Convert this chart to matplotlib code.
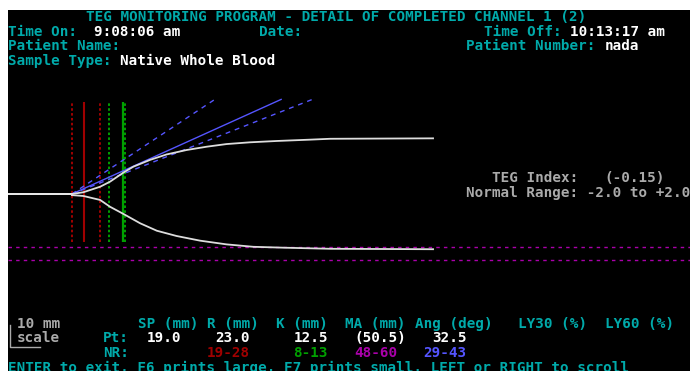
import matplotlib.pyplot as plt
import numpy as np

# TEG trace, chart millimetres (x = chart length, y = half amplitude)
upper_x = [19.0, 22.7, 28.1, 31.3, 35.8, 38.8, 44.2, 49.6, 56.0, 62.5, 68.9, 76.5, 85.1, 95.8, 102.3, 135.5]
upper_y = [0.0, 0.8, 3.3, 5.6, 9.9, 12.4, 15.5, 18.0, 20.0, 21.5, 22.7, 23.5, 24.1, 24.7, 25.1, 25.3]
lower_x = [19.0, 22.7, 28.1, 31.3, 35.8, 41.0, 46.4, 52.8, 60.3, 68.9, 77.5, 87.2, 102.3, 135.5]
lower_y = [-0.5, -0.9, -2.7, -5.8, -9.2, -13.3, -16.7, -19.1, -21.2, -22.9, -24.0, -24.4, -24.9, -25.1]

# results
sp_mm = 19.0
r_mm = 23.0
k_mm = 12.5
ma_mm = 50.5
angle_deg = 32.5
r_range = (19, 28)
k_range = (8, 13)
ma_range = (48, 60)
angle_range = (29, 43)
teg_index = -0.15

header_labels = ["SP (mm)", "R (mm)", "K (mm)", "MA (mm)", "Ang (deg)", "LY30 (%)", "LY60 (%)"]
header_cols = [15, 23, 31, 39, 47, 59, 69]

# screen geometry (pixels)
W, H = 690, 371
SCR_X, SCR_Y = 8, 10
CHAR_W, ROW_H = 8.65, 14.6
X_PER_MM, Y_PER_MM = 3.1, 2.2
ORIGIN_PX = (13, 194)

CYAN = "#00aaaa"
WHITE = "#ffffff"
GRAY = "#aaaaaa"
RED = "#a00000"
GREEN = "#00a000"
MAGENTA = "#aa00aa"
BLUE = "#5555ff"

fig = plt.figure(figsize=(W / 100, H / 100), dpi=100)
fig.patch.set_facecolor("white")

ax = fig.add_axes([SCR_X / W, 0, (W - SCR_X) / W, (H - SCR_Y) / H])
ax.set_facecolor("black")
ax.set_xticks([])
ax.set_yticks([])
for s in ax.spines.values():
    s.set_visible(False)
ax.set_xlim((SCR_X - ORIGIN_PX[0]) / X_PER_MM, (W - ORIGIN_PX[0]) / X_PER_MM)
ax.set_ylim((ORIGIN_PX[1] - H) / Y_PER_MM, (ORIGIN_PX[1] - SCR_Y) / Y_PER_MM)

# normal range lines
vtop, vbot = 42, -21.8
ax.vlines(r_range, vbot, vtop, color=RED, lw=1.4, linestyles=[(0, (1.3, 1.2))])
ax.vlines([r_mm], vbot, vtop, color=RED, lw=1.5)
ax.vlines([r_mm + k for k in k_range], vbot, vtop, color=GREEN, lw=1.4, linestyles=[(0, (1.3, 1.2))])
ax.vlines([r_mm + k_mm], vbot, vtop, color=GREEN, lw=1.6)
for m in ma_range:
    ax.axhline(-m / 2, color=MAGENTA, lw=1, linestyle=(0, (2.5, 3)))

# angle lines
rise = 43
for ang, ls in [(angle_range[0], (0, (3.5, 3.5))), (angle_range[1], (0, (3.5, 3.5))), (angle_deg, "-")]:
    run = rise / np.tan(np.radians(ang))
    ax.plot([sp_mm, sp_mm + run], [0, rise], color=BLUE, lw=1, linestyle=ls)

# trace
ax.plot([ax.get_xlim()[0], sp_mm], [0, 0], color=WHITE, lw=1.3)
ax.plot(upper_x, upper_y, color="#dddddd", lw=1.3)
ax.plot(lower_x, lower_y, color="#dddddd", lw=1.3)

# 10 mm scale bar
sx, sy = -0.97, -69.5
ax.plot([sx, sx, sx + 9.7], [sy + 10, sy, sy], color=GRAY, lw=1)


def put(col, row, s, color):
    x = (SCR_X + col * CHAR_W) / W
    y = 1 - (SCR_Y + ROW_H * (row + 0.5)) / H
    fig.text(x, y, s, color=color, ha="left", va="center", fontsize=10.3,
             family="DejaVu Sans Mono", weight="bold")


put(9, 0, "TEG MONITORING PROGRAM - DETAIL OF COMPLETED CHANNEL 1 (2)", CYAN)
put(0, 1, "Time On:", CYAN)
put(10, 1, "9:08:06 am", WHITE)
put(29, 1, "Date:", CYAN)
put(55, 1, "Time Off:", CYAN)
put(65, 1, "10:13:17 am", WHITE)
put(0, 2, "Patient Name:", CYAN)
put(53, 2, "Patient Number:", CYAN)
put(69, 2, "nada", WHITE)
put(0, 3, "Sample Type:", CYAN)
put(13, 3, "Native Whole Blood", WHITE)

put(56, 11, "TEG Index:", GRAY)
put(69, 11, f"({teg_index:.2f})", GRAY)
put(53, 12, "Normal Range: -2.0 to +2.0", GRAY)

put(1, 21, "10 mm", GRAY)
for c, lab in zip(header_cols, header_labels):
    put(c, 21, lab, CYAN)
put(1, 22, "scale", GRAY)
put(11, 22, "Pt:", CYAN)
pt_values = [f"{sp_mm:.1f}", f"{r_mm:.1f}", f"{k_mm:.1f}", f"({ma_mm:.1f})", f"{angle_deg:.1f}"]
for c, v in zip([16, 24, 33, 40, 49], pt_values):
    put(c, 22, v, WHITE)
put(11, 23, "NR:", CYAN)
for c, rng, col in zip([23, 33, 40, 48], [r_range, k_range, ma_range, angle_range], [RED, GREEN, MAGENTA, BLUE]):
    put(c, 23, f"{rng[0]}-{rng[1]}", col)
put(0, 24, "ENTER to exit, F6 prints large, F7 prints small, LEFT or RIGHT to scroll", CYAN)

fig.savefig("out.png", dpi=100, facecolor=fig.get_facecolor())
